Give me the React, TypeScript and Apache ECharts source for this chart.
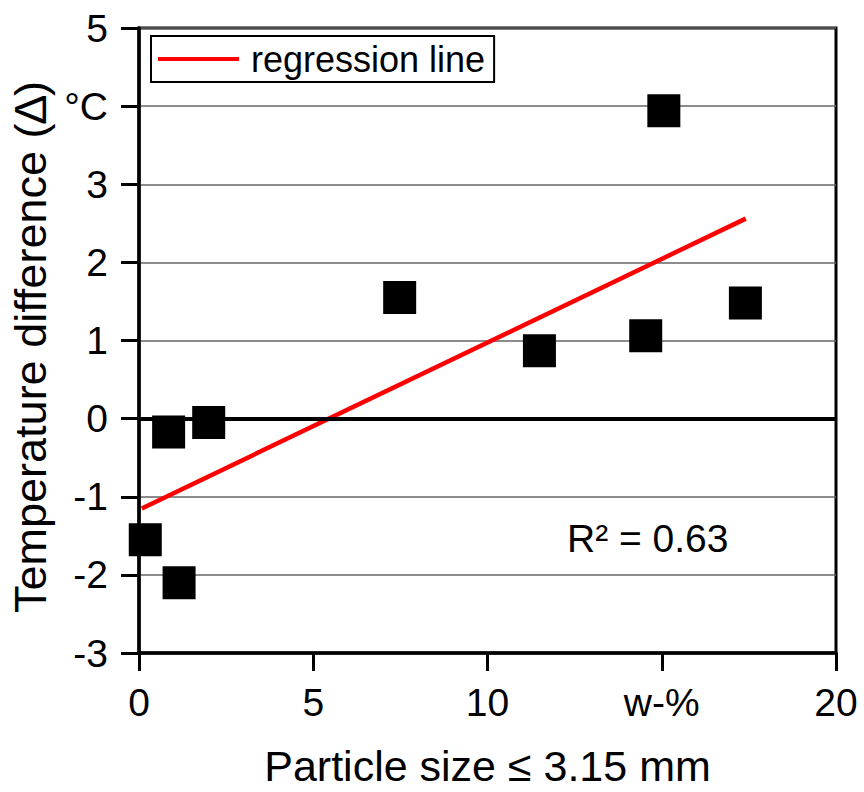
import React, { useEffect, useRef } from "react";
import * as echarts from "echarts";

const particleSize = [0.18, 0.85, 1.15, 2.0, 7.48, 11.49, 14.54, 15.06, 17.4];
const tempDiff = [-1.55, -0.17, -2.1, -0.05, 1.55, 0.87, 1.06, 3.94, 1.48];
const regressionX = [0.08, 17.41];
const regressionY = [-1.15, 2.56];
const yTickLabels: Record<number, string> = { 4: "°C" };
const xTickLabels: Record<number, string> = { 15: "w-%" };
const rSquaredText = "R² = 0.63";

const FONT = "'Liberation Sans', Arial, sans-serif";

export default function App() {
  const ref = useRef<HTMLDivElement>(null);
  useEffect(() => {
    if (!ref.current) return;
    const chart = echarts.init(ref.current, undefined, { renderer: "svg" });
    const scatterData = particleSize.map((x, i) => [x, tempDiff[i]]);
    const lineData = regressionX.map((x, i) => [x, regressionY[i]]);
    chart.setOption({
      animation: false,
      backgroundColor: "#fff",
      textStyle: { fontFamily: FONT },
      grid: {
        left: 138,
        right: 28,
        top: 28,
        bottom: 133,
        show: true,
        borderColor: "#000",
        borderWidth: 3,
      },
      legend: {
        left: 151,
        top: 36,
        padding: [4, 9, 4, 7],
        borderColor: "#000",
        borderWidth: 2,
        icon: "rect",
        itemWidth: 81,
        itemHeight: 4,
        data: [{ name: "regression line", itemStyle: { color: "#ff0000" } }],
        textStyle: {
          fontSize: 36,
          fontFamily: FONT,
          color: "#000",
          lineHeight: 38,
          padding: [0, 0, 0, 7],
        },
      },
      xAxis: {
        type: "value",
        min: 0,
        max: 20,
        interval: 5,
        name: "Particle size ≤ 3.15 mm",
        nameLocation: "middle",
        nameGap: 91,
        nameTextStyle: { fontSize: 43, color: "#000", fontFamily: FONT },
        axisLine: { onZero: false, lineStyle: { color: "#000", width: 3.5 } },
        axisTick: { length: 18, lineStyle: { color: "#000", width: 3 } },
        axisLabel: {
          fontSize: 39,
          color: "#000",
          fontFamily: FONT,
          margin: 30,
          formatter: (v: number) => xTickLabels[v] ?? String(v),
        },
        splitLine: { show: false },
      },
      yAxis: {
        type: "value",
        min: -3,
        max: 5,
        interval: 1,
        name: "Temperature difference (∆)",
        nameLocation: "middle",
        nameGap: 86,
        nameRotate: 90,
        nameTextStyle: { fontSize: 45, color: "#000", fontFamily: FONT, padding: [0, 13, 0, 0] },
        axisLine: { show: true, lineStyle: { color: "#000", width: 3.5 } },
        axisTick: { show: true, length: 18, lineStyle: { color: "#000", width: 3 } },
        axisLabel: {
          fontSize: 39,
          color: "#000",
          fontFamily: FONT,
          margin: 31,
          formatter: (v: number) => yTickLabels[v] ?? String(v),
        },
        splitLine: { show: true, lineStyle: { color: "#666", width: 1.5 } },
      },
      series: [
        {
          name: "regression line",
          type: "line",
          data: lineData,
          showSymbol: false,
          symbol: "none",
          lineStyle: { color: "#ff0000", width: 4.5 },
          itemStyle: { color: "#ff0000" },
          z: 3,
        },
        {
          name: "data",
          type: "scatter",
          data: scatterData,
          symbol: "rect",
          symbolSize: 33,
          itemStyle: { color: "#000", opacity: 1 },
          z: 4,
          markLine: {
            silent: true,
            symbol: "none",
            label: { show: false },
            lineStyle: { color: "#000", width: 4, type: "solid" },
            data: [{ yAxis: 0 }],
          },
        },
      ],
      graphic: [
        {
          type: "text",
          left: 567,
          top: 519,
          style: {
            text: rSquaredText,
            font: `39px ${FONT}`,
            fill: "#000",
          },
        },
      ],
    });
    return () => chart.dispose();
  }, []);
  return (
    <div
      ref={ref}
      style={{ position: "fixed", left: 0, top: 0, width: 864, height: 792 }}
    />
  );
}
